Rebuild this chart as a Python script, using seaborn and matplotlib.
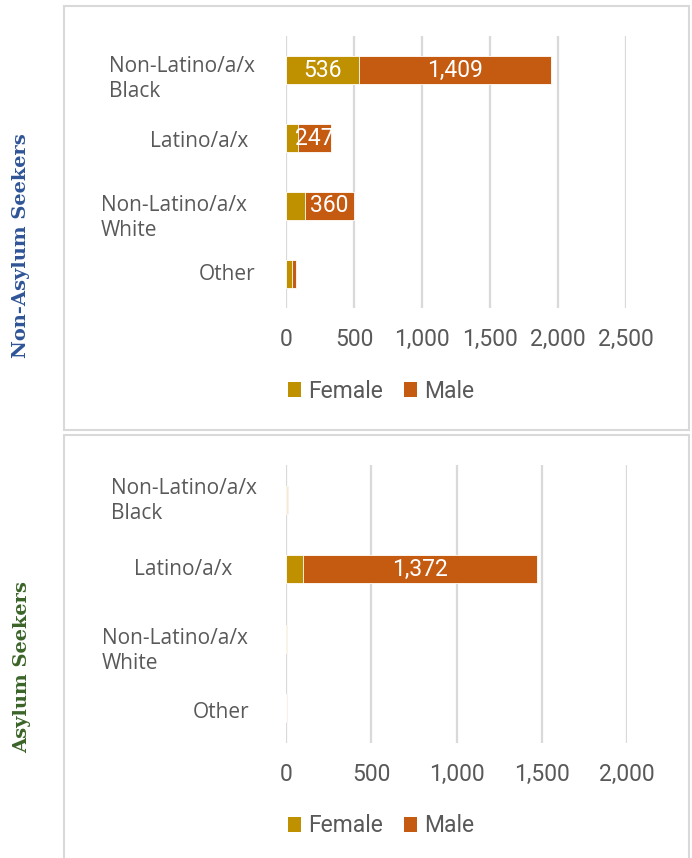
import matplotlib
matplotlib.use("Agg")
import matplotlib.pyplot as plt
from matplotlib.patches import Rectangle, Patch
from matplotlib.transforms import blended_transform_factory, offset_copy
import seaborn as sns

# Detention population by race/ethnicity and gender
categories = ["Non-Latino/a/x\nBlack", "Latino/a/x", "Non-Latino/a/x\nWhite", "Other"]

non_asylum_female = [536, 86, 137, 42]
non_asylum_male = [1409, 247, 360, 29]

asylum_female = [4, 98, 3, 1]
asylum_male = [6, 1372, 5, 2]

non_asylum_ticks = [0, 500, 1000, 1500, 2000, 2500]
asylum_ticks = [0, 500, 1000, 1500, 2000]

FEMALE = "#BF9000"
MALE = "#C55A11"
GRID = "#D9D9D9"
TEXT = "#595959"

sns.set_style("white")
plt.rcParams["font.family"] = ["Roboto", "DejaVu Sans"]

W, H = 692, 858
fig = plt.figure(figsize=(W / 100, H / 100), dpi=100)


def fx(px):
    return px / W


def fy(py):
    return 1 - py / H


def draw_panel(ax, female, male, ticks, label_dx, label_dy):
    totals = [f + m for f, m in zip(female, male)]
    sns.barplot(x=totals, y=categories, orient="h", color=MALE, saturation=1,
                width=0.4, edgecolor="white", linewidth=0.6, ax=ax)
    sns.barplot(x=female, y=categories, orient="h", color=FEMALE, saturation=1,
                width=0.4, edgecolor="white", linewidth=0.6, ax=ax)
    ax.set_xlim(ticks[0], ticks[-1])
    ax.set_ylim(3.5, -0.5)
    ax.set_xticks(ticks)
    ax.set_xticklabels([f"{t:,}" for t in ticks])
    ax.set_yticks([])
    ax.set_xlabel("")
    ax.set_ylabel("")
    ax.xaxis.grid(True, color=GRID, linewidth=1.6)
    ax.set_axisbelow(True)
    for s in ax.spines.values():
        s.set_visible(False)
    ax.tick_params(axis="x", length=0, pad=14.2, labelsize=16.5, labelcolor=TEXT)

    # value labels inside the segments
    for i, (f, m) in enumerate(zip(female, male)):
        if f >= 200:
            ax.text(f / 2, i, f"{f:,}", ha="center", va="center",
                    color="white", fontsize=16.5)
        if m >= 200:
            ax.text(f + m / 2, i, f"{m:,}", ha="center", va="center",
                    color="white", fontsize=16.5)

    # category labels to the left of the axis
    base = blended_transform_factory(ax.transAxes, ax.transData)
    for i, cat in enumerate(categories):
        tr = offset_copy(base, fig=fig, x=-label_dx[i], y=-label_dy[i], units="dots")
        ax.text(0, i, cat, transform=tr, ha="right", va="center",
                multialignment="left", linespacing=1.25,
                family=["Open Sans", "DejaVu Sans"], fontsize=15, color=TEXT)


ax1 = fig.add_axes([fx(286), fy(308), fx(626) - fx(286), (308 - 36) / H])
draw_panel(ax1, non_asylum_female, non_asylum_male, non_asylum_ticks,
           [31, 38, 39, 31], [9, 3, 12, 1])

ax2 = fig.add_axes([fx(286), fy(743), fx(627) - fx(286), (743 - 465) / H])
draw_panel(ax2, asylum_female, asylum_male, asylum_ticks,
           [29, 54, 38, 37], [1, 0, 12, 4])

# legends
handles = [Patch(facecolor=FEMALE, edgecolor="none"),
           Patch(facecolor=MALE, edgecolor="none")]
for yy in (391, 826):
    fig.legend(handles, ["Female", "Male"], loc="center",
               bbox_to_anchor=(fx(381), fy(yy)), ncol=2, frameon=False,
               handlelength=0.6, handleheight=0.6, handletextpad=0.3,
               columnspacing=0.9, fontsize=16.5, labelcolor=TEXT)

# panel frames
fig.patches.append(Rectangle((fx(64), fy(430)), fx(689) - fx(64), (430 - 6) / H,
                             transform=fig.transFigure, fill=False,
                             edgecolor=GRID, linewidth=1.5))
fig.patches.append(Rectangle((fx(64), fy(880)), fx(689) - fx(64), (880 - 435) / H,
                             transform=fig.transFigure, fill=False,
                             edgecolor=GRID, linewidth=1.5))

# group labels
fig.text(fx(21), fy(246), "Non-Asylum Seekers", rotation=90, ha="center",
         va="center", family="DejaVu Serif", weight="bold", fontsize=14,
         color="#2F5597")
fig.text(fx(22), fy(667), "Asylum Seekers", rotation=90, ha="center",
         va="center", family="DejaVu Serif", weight="bold", fontsize=14,
         color="#3B6428")

fig.savefig("out.png", dpi=100, facecolor="white")
